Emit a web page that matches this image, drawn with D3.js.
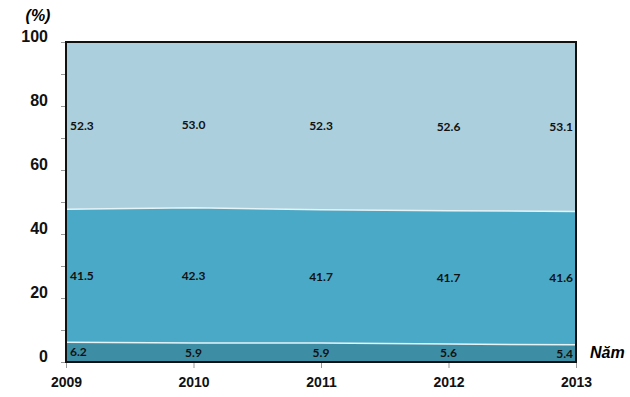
<!DOCTYPE html>
<html>
<head>
<meta charset="utf-8">
<script src="https://cdn.jsdelivr.net/npm/d3@7"></script>
<style>
  body { margin: 0; background: #fff; }
  svg { display: block; }
  .yaxis text { font-family: "Liberation Sans", Arial, sans-serif; font-weight: bold; font-size: 16px; fill: #111; }
  .xaxis text { font-family: "Liberation Sans", Arial, sans-serif; font-weight: bold; font-size: 14px; fill: #111; }
  .tick line { stroke: #999; }
  .lbl { font-family: Lato, "Open Sans", sans-serif; font-weight: bold; font-size: 12px; fill: #111; }
</style>
</head>
<body>
<svg id="chart" width="630" height="397" viewBox="0 0 630 397"></svg>
<script>
let years = [2009, 2010, 2011, 2012, 2013];
let bottomVals = [6.2, 5.9, 5.9, 5.6, 5.4];
let middleVals = [41.5, 42.3, 41.7, 41.7, 41.6];
let topVals = [52.3, 53.0, 52.3, 52.6, 53.1];
let yTicks = [0, 10, 20, 30, 40, 50, 60, 70, 80, 90, 100];

let colors = ["#3d8ea5", "#4aa9c6", "#abcfdd"];

let svg = d3.select("#chart");
let margins = {top: 42, right: 54, bottom: 35, left: 66};
let width = 630 - margins.left - margins.right;
let height = 397 - margins.top - margins.bottom;

let x = d3.scaleLinear([2009, 2013], [0, width]);
let y = d3.scaleLinear([0, 100], [height, 0]);

let rows = years.map((yr, i) => ({year: yr, a: bottomVals[i], b: middleVals[i], c: topVals[i]}));
let series = d3.stack().keys(["a", "b", "c"])(rows);

svg.append("defs").append("clipPath").attr("id", "clip")
    .append("rect").attr("width", width).attr("height", height);

let g = svg.append("g").attr("transform", `translate(${margins.left},${margins.top})`);

let area = d3.area()
    .x(d => x(d.data.year))
    .y0(d => y(d[0]))
    .y1(d => y(d[1]));

let plot = g.append("g").attr("clip-path", "url(#clip)");

plot.selectAll(".layer")
    .data(series)
    .join("path")
    .attr("class", "layer")
    .attr("d", (s, i) => i == 2 ? area.y1(() => y(100))(s) : area.y1(d => y(d[1]))(s))
    .attr("fill", (s, i) => colors[i]);

// white-ish edges between layers
let edge = d3.line().x(d => x(d.data.year)).y(d => y(d[1]));
plot.selectAll(".edge")
    .data(series.slice(0, 2))
    .join("path")
    .attr("class", "edge")
    .attr("d", edge)
    .attr("fill", "none")
    .attr("stroke", "#e6f3f7")
    .attr("stroke-width", 1.5);

// labels in the middle of each band
let last = years.length - 1;
series.forEach((s, k) => {
    g.selectAll(".lbl" + k)
        .data(s)
        .join("text")
        .attr("class", "lbl")
        .attr("x", (d, i) => i == 0 ? x(d.data.year) + 4 : i == last ? x(d.data.year) - 3 : x(d.data.year))
        .attr("y", d => k == 2 ? y((d[0] + 100) / 2) : y((d[0] + d[1]) / 2))
        .attr("dy", "0.35em")
        .attr("text-anchor", (d, i) => i == 0 ? "start" : i == last ? "end" : "middle")
        .text(d => d.data[s.key].toFixed(1));
});

// axes
let yAxis = g.append("g").attr("class", "yaxis")
    .call(d3.axisLeft(y).tickValues(yTicks).tickSize(5).tickPadding(13)
        .tickFormat(d => d % 20 == 0 ? d : ""));
yAxis.select(".domain").remove();
yAxis.selectAll("text").attr("dy", "-0.05em");

let xAxis = g.append("g").attr("class", "xaxis")
    .attr("transform", `translate(0,${height})`)
    .call(d3.axisBottom(x).tickValues(years).tickFormat(d3.format("d")).tickSize(6).tickPadding(9));
xAxis.select(".domain").remove();

g.append("rect")
    .attr("width", width).attr("height", height)
    .attr("fill", "none").attr("stroke", "#111").attr("stroke-width", 2);

svg.append("text")
    .attr("x", 38).attr("y", 21)
    .attr("text-anchor", "middle")
    .style("font", "italic bold 16px 'Liberation Sans', Arial, sans-serif")
    .text("(%)");

svg.append("text")
    .attr("x", 590).attr("y", 358)
    .style("font", "italic bold 16px 'Liberation Sans', Arial, sans-serif")
    .text("Năm");
</script>
</body>
</html>
